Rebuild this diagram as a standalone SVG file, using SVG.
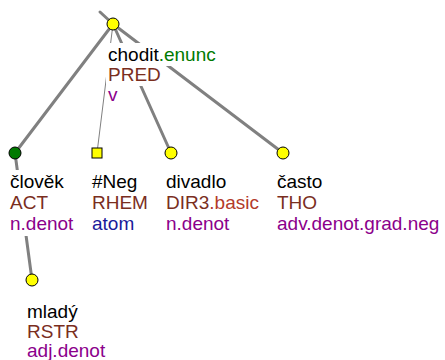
<svg xmlns="http://www.w3.org/2000/svg" width="445" height="360" viewBox="0 0 445 360">
<style>
text{font-family:"Liberation Sans",Arial,sans-serif;font-size:19px}
.lem{fill:#000}
.fn{fill:#7a2e1e}
.ext{fill:#b33a2a}
.grn{fill:#007a00}
.pur{fill:#8b008b}
.blu{fill:#1a1a9a}
.bg{fill:#fff}
.e{stroke:#808080;stroke-width:3;fill:none;stroke-linecap:round}
.thin{stroke:#808080;stroke-width:1;fill:none}
.y{fill:#ffff00;stroke:#000;stroke-width:1}
.g{fill:#007a00;stroke:#000;stroke-width:1}
</style>
<rect width="445" height="360" fill="#fff"/>
<g id="connectors">
<line class="e" x1="100" y1="12" x2="113" y2="24"/>
<line class="e" x1="113" y1="24" x2="15" y2="153"/>
<line class="thin" x1="113" y1="24" x2="97" y2="153"/>
<line class="e" x1="113" y1="24" x2="171" y2="153"/>
<line class="e" x1="113" y1="24" x2="283" y2="153"/>
<line class="e" x1="15" y1="153" x2="32" y2="280"/>
</g>
<g id="node-chodit">
<rect class="bg" x="106" y="43" width="111" height="23"/>
<rect class="bg" x="106" y="66" width="55" height="20"/>
<rect class="bg" x="106" y="86" width="13" height="20"/>
<circle class="y" cx="113" cy="24" r="6"/>
<text x="108" y="61"><tspan class="lem">chodit</tspan><tspan class="grn">.enunc</tspan></text>
<text class="fn" x="108" y="81">PRED</text>
<text class="pur" x="108" y="101">v</text>
</g>
<g id="node-clovek">
<rect class="bg" x="9" y="170" width="56" height="23"/>
<rect class="bg" x="9" y="193" width="40" height="21"/>
<rect class="bg" x="9" y="214" width="66" height="22"/>
<circle class="g" cx="15" cy="153" r="6"/>
<text class="lem" x="10" y="188">člověk</text>
<text class="fn" x="10" y="209">ACT</text>
<text class="pur" x="10" y="230">n.denot</text>
</g>
<g id="node-neg">
<rect class="y" x="92" y="148" width="10" height="10"/>
<text class="lem" x="92" y="188">#Neg</text>
<text class="fn" x="92" y="209">RHEM</text>
<text class="blu" x="92" y="230">atom</text>
</g>
<g id="node-divadlo">
<circle class="y" cx="171" cy="153" r="6"/>
<text class="lem" x="166" y="188">divadlo</text>
<text x="166" y="209"><tspan class="fn">DIR3</tspan><tspan class="ext">.basic</tspan></text>
<text class="pur" x="166" y="230">n.denot</text>
</g>
<g id="node-casto">
<circle class="y" cx="283" cy="153" r="6"/>
<text class="lem" x="277" y="188">často</text>
<text class="fn" x="277" y="209">THO</text>
<text class="pur" x="277" y="230">adv.denot.grad.neg</text>
</g>
<g id="node-mlady">
<circle class="y" cx="32" cy="280" r="6"/>
<text class="lem" x="27" y="318">mladý</text>
<text class="fn" x="27" y="338">RSTR</text>
<text class="pur" x="27" y="357">adj.denot</text>
</g>
</svg>
